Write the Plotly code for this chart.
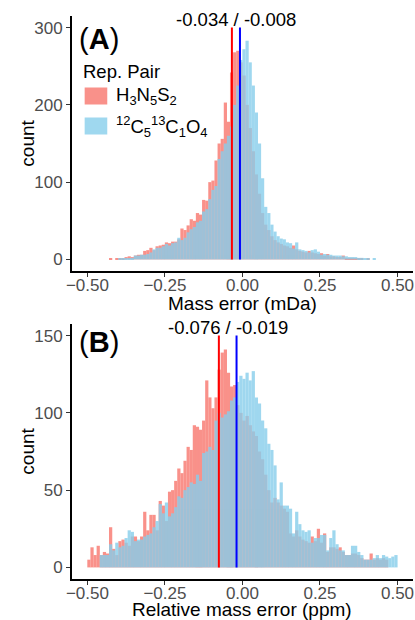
import plotly.graph_objects as go

# ---------------- data ----------------
# histogram bins (binwidth 0.01 over -0.5..0.5), bin centres
bin_centers = [round(-0.495 + 0.01 * i, 3) for i in range(100)]

series_names = ["H<sub>3</sub>N<sub>5</sub>S<sub>2</sub>",
                "<sup>12</sup>C<sub>5</sub><sup>13</sup>C<sub>1</sub>O<sub>4</sub>"]

# Panel A: Mass error (mDa)
mass_red = [0, 0, 0, 0, 0, 0, 0, 1, 0, 1,
            1, 1, 3, 4, 3, 5, 6, 6, 11, 12,
            15, 12, 17, 18, 19, 22, 21, 23, 23, 26,
            40, 38, 44, 52, 50, 60, 58, 77, 76, 100,
            102, 128, 150, 156, 203, 178, 242, 268, 270, 255,
            238, 200, 170, 140, 110, 85, 60, 45, 38, 30,
            25, 22, 20, 18, 17, 15, 18, 13, 11, 10,
            9, 11, 9, 8, 7, 8, 5, 7, 4, 4,
            3, 3, 5, 2, 2, 2, 1, 1, 1, 0,
            1, 0, 0, 0, 0, 0, 0, 0, 0, 0]
mass_blue = [0, 0, 0, 0, 0, 0, 0, 0, 0, 0,
             1, 1, 1, 1, 2, 5, 5, 6, 6, 7,
             9, 13, 15, 15, 17, 20, 18, 21, 22, 28,
             25, 28, 35, 39, 42, 48, 50, 62, 65, 78,
             90, 95, 130, 140, 150, 160, 172, 200, 225, 258,
             272, 283, 255, 225, 190, 150, 105, 68, 60, 45,
             36, 30, 27, 26, 22, 21, 14, 22, 13, 12,
             11, 9, 12, 13, 10, 6, 7, 6, 6, 5,
             5, 5, 4, 4, 3, 3, 3, 2, 2, 1,
             1, 0, 1, 0, 0, 0, 0, 0, 0, 0]
mass_means = [-0.034, -0.008]

# Panel B: Relative mass error (ppm)
rel_red = [5, 13, 8, 14, 8, 10, 9, 26, 12, 8,
           17, 18, 16, 14, 20, 20, 17, 20, 36, 24,
           34, 34, 24, 43, 40, 30, 49, 50, 56, 64,
           61, 69, 78, 76, 92, 91, 89, 95, 121, 110,
           103, 110, 128, 139, 141, 126, 117, 118, 105, 100,
           95, 98, 92, 88, 85, 75, 70, 60, 50, 42,
           45, 42, 40, 38, 36, 22, 20, 24, 20, 18,
           17, 16, 20, 17, 25, 16, 22, 10, 13, 13,
           12, 13, 10, 8, 8, 9, 9, 8, 6, 5,
           5, 9, 5, 6, 5, 6, 5, 0, 0, 0]
rel_blue = [0, 0, 0, 0, 8, 8, 8, 15, 11, 16,
            13, 14, 19, 24, 23, 17, 18, 18, 20, 21,
            22, 26, 30, 41, 35, 42, 33, 35, 39, 46,
            45, 50, 52, 55, 54, 60, 56, 74, 75, 78,
            76, 95, 100, 97, 99, 101, 108, 110, 120, 124,
            122, 126, 121, 127, 110, 106, 95, 90, 80, 76,
            66, 44, 55, 40, 40, 38, 22, 36, 28, 24,
            23, 24, 16, 19, 19, 21, 21, 11, 19, 24,
            15, 11, 11, 8, 8, 14, 14, 10, 8, 5,
            5, 5, 6, 8, 6, 8, 7, 6, 7, 8]
rel_means = [-0.076, -0.019]

x_ticks = [-0.5, -0.25, 0.0, 0.25, 0.5]
yA_ticks = [0, 100, 200, 300]
yB_ticks = [0, 50, 100, 150]
line_tops = [300, 150]

# ---------------- styling ----------------
W, H = 415, 620
FONT = "Liberation Sans, Arial, sans-serif"
fill_colors = ["#F8766D", "#87CEEB"]
line_colors = ["#FF0000", "#0000FF"]
ALPHA = 0.8
BAR_W = 0.0104


def px(x):
    return x / W


def py(y):
    return 1 - y / H


fig = go.Figure()

panels = [
    dict(red=mass_red, blue=mass_blue, means=mass_means, top=line_tops[0], xa="x", ya="y"),
    dict(red=rel_red, blue=rel_blue, means=rel_means, top=line_tops[1], xa="x2", ya="y2"),
]

for p in panels:
    fig.add_trace(go.Bar(x=bin_centers, y=p["red"], width=BAR_W,
                         marker=dict(color=fill_colors[0], line=dict(width=0)),
                         opacity=ALPHA, xaxis=p["xa"], yaxis=p["ya"],
                         name=series_names[0], showlegend=False))
    fig.add_trace(go.Scatter(x=[p["means"][0], p["means"][0]], y=[0, p["top"]],
                             mode="lines", line=dict(color=line_colors[0], width=2),
                             xaxis=p["xa"], yaxis=p["ya"], showlegend=False,
                             hoverinfo="skip"))
    fig.add_trace(go.Bar(x=bin_centers, y=p["blue"], width=BAR_W,
                         marker=dict(color=fill_colors[1], line=dict(width=0)),
                         opacity=ALPHA, xaxis=p["xa"], yaxis=p["ya"],
                         name=series_names[1], showlegend=False))
    fig.add_trace(go.Scatter(x=[p["means"][1], p["means"][1]], y=[0, p["top"]],
                             mode="lines", line=dict(color=line_colors[1], width=2),
                             xaxis=p["xa"], yaxis=p["ya"], showlegend=False,
                             hoverinfo="skip"))

x_dom = [px(67), px(414)]
axis_common = dict(showgrid=False, zeroline=False, showline=True, linecolor="black",
                   linewidth=1.6, ticks="outside", ticklen=4, tickwidth=1.1,
                   tickcolor="#333333", tickfont=dict(size=17, color="#4D4D4D", family=FONT))

fig.update_layout(
    width=W, height=H,
    margin=dict(l=0, r=0, t=0, b=0),
    paper_bgcolor="white", plot_bgcolor="white",
    barmode="overlay", showlegend=False,
    font=dict(family=FONT, color="black"),
    xaxis=dict(domain=x_dom, range=[-0.55, 0.55], tickvals=x_ticks, tickformat=".2f",
               anchor="y", ticklabelstandoff=-6, **axis_common),
    yaxis=dict(domain=[py(271), py(16)], range=[-15, 315], tickvals=yA_ticks,
               anchor="x", **axis_common),
    xaxis2=dict(domain=x_dom, range=[-0.55, 0.55], tickvals=x_ticks, tickformat=".2f",
                anchor="y2", ticklabelstandoff=-6, **axis_common),
    yaxis2=dict(domain=[py(579), py(324)], range=[-7.5, 157.5], tickvals=yB_ticks,
                anchor="x2", **axis_common),
)

ann = []
for p in panels:
    ann.append(dict(x=(p["means"][0] + p["means"][1]) / 2, y=p["top"],
                    xref=p["xa"], yref=p["ya"], yanchor="bottom", yshift=-4,
                    text=f"{p['means'][0]:.3f} / {p['means'][1]:.3f}",
                    showarrow=False, font=dict(size=18.5, color="black", family=FONT)))

ann.append(dict(x=px(72), y=py(39), xref="paper", yref="paper", xanchor="left",
                yanchor="middle", text="(<b>A</b>)", showarrow=False,
                font=dict(size=29, color="black", family=FONT)))
ann.append(dict(x=px(72), y=py(342), xref="paper", yref="paper", xanchor="left",
                yanchor="middle", text="(<b>B</b>)", showarrow=False,
                font=dict(size=29, color="black", family=FONT)))

xc = (x_dom[0] + x_dom[1]) / 2
ann.append(dict(x=xc, y=py(304), xref="paper", yref="paper", yanchor="middle",
                text="Mass error (mDa)", showarrow=False,
                font=dict(size=19, color="black", family=FONT)))
ann.append(dict(x=xc, y=py(609), xref="paper", yref="paper", yanchor="middle",
                text="Relative mass error (ppm)", showarrow=False,
                font=dict(size=19, color="black", family=FONT)))
for yc in (143, 451):
    ann.append(dict(x=px(21), y=py(yc), xref="paper", yref="paper", xanchor="center",
                    yanchor="middle", text="count", textangle=-90, showarrow=False,
                    font=dict(size=19, color="black", family=FONT)))

ann.append(dict(x=px(76), y=py(72), xref="paper", yref="paper", xanchor="left",
                yanchor="middle", text="Rep. Pair", showarrow=False,
                font=dict(size=18.5, color="black", family=FONT)))
key_rows = [96, 126]
shapes = []
for i, yc in enumerate(key_rows):
    shapes.append(dict(type="rect", xref="paper", yref="paper",
                       x0=px(80), x1=px(103), y0=py(yc - 8.5), y1=py(yc + 8.5),
                       fillcolor=fill_colors[i], opacity=ALPHA, line=dict(width=0)))
    ann.append(dict(x=px(110), y=py(yc), xref="paper", yref="paper", xanchor="left",
                    yanchor="middle", text=series_names[i], showarrow=False,
                    font=dict(size=18.5, color="black", family=FONT)))

fig.update_layout(annotations=ann, shapes=shapes)

fig.write_html("out.html", config={"displayModeBar": False},
               post_script="document.body.style.margin='0';document.body.style.overflow='hidden';")
